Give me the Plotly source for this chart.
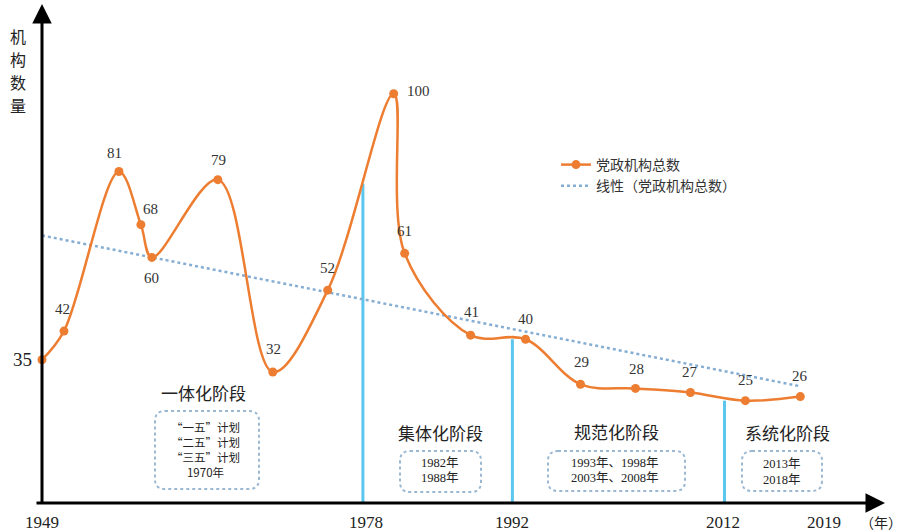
import numpy as np
import plotly.graph_objects as go

# 党政机构总数（历次机构改革）
years = [1949, 1951, 1956, 1958, 1959, 1965, 1970, 1975, 1981, 1982,
         1988, 1993, 1998, 2003, 2008, 2013, 2018]
counts = [35, 42, 81, 68, 60, 79, 32, 52, 100, 61, 41, 40, 29, 28, 27, 25, 26]

# 阶段分界线（年份位置及竖线高度）
stage_edges = [1978.2, 1991.8, 2011.1]
stage_edge_heights = [78, 40, 25]

# 横轴刻度
tick_years = [1949, 1978.5, 1991.8, 2011.0, 2020.2]
tick_text = ["1949", "1978", "1992", "2012", "2019"]

# 各阶段标题与说明
stage_titles = ["一体化阶段", "集体化阶段", "规范化阶段", "系统化阶段"]
stage_notes = [
    ["“一五”计划", "“二五”计划", "“三五”计划", "1970年"],
    ["1982年", "1988年"],
    ["1993年、1998年", "2003年、2008年"],
    ["2013年", "2018年"],
]

W, H = 903, 532
PX_PER_YEAR = 10.99
PX_PER_UNIT = 4.093
X0_PX, Y0_PX = 42, 503          # pixel position of (1949, 0)

x_min = 1949 - X0_PX / PX_PER_YEAR
x_max = x_min + W / PX_PER_YEAR
y_max = Y0_PX / PX_PER_UNIT
y_min = y_max - H / PX_PER_UNIT

ORANGE = "#ED7D31"
TREND = "#86AED3"
CYAN = "#5BC6EE"
BOX = "#9BB8D2"
SERIF = "Liberation Serif, Noto Sans CJK SC, serif"
CJK = "Noto Sans CJK SC, sans-serif"


def paper(x, y):
    return x / W, 1 - y / H


def rounded_box(x0, y0, x1, y1, r=10):
    """SVG path (paper units) for a rounded rectangle given in pixels."""
    def p(x, y):
        a, b = paper(x, y)
        return f"{a:.5f},{b:.5f}"
    return (f"M {p(x0 + r, y0)} L {p(x1 - r, y0)} Q {p(x1, y0)} {p(x1, y0 + r)} "
            f"L {p(x1, y1 - r)} Q {p(x1, y1)} {p(x1 - r, y1)} "
            f"L {p(x0 + r, y1)} Q {p(x0, y1)} {p(x0, y1 - r)} "
            f"L {p(x0, y0 + r)} Q {p(x0, y0)} {p(x0 + r, y0)} Z")


def text_at(px_x, px_y, text, family, size, color="#222222"):
    xa, ya = paper(px_x, px_y)
    return dict(x=xa, y=ya, xref="paper", yref="paper", text=text, showarrow=False,
                xanchor="center", yanchor="middle",
                font=dict(family=family, size=size, color=color))


slope, intercept = np.polyfit(years, counts, 1)
trend_x = [years[0], years[-1]]
trend_y = [slope * x + intercept for x in trend_x]

fig = go.Figure()

fig.add_trace(go.Scatter(
    x=trend_x, y=trend_y, mode="lines", name="线性（党政机构总数）",
    line=dict(color=TREND, width=2.5, dash="dot"), hoverinfo="skip",
))
fig.add_trace(go.Scatter(
    x=years, y=counts, mode="lines+markers", name="党政机构总数",
    line=dict(color=ORANGE, width=2.5, shape="spline", smoothing=1.0),
    marker=dict(color=ORANGE, size=9), cliponaxis=False,
))

shapes = []
for edge, h in zip(stage_edges, stage_edge_heights):
    shapes.append(dict(type="line", xref="x", yref="y", x0=edge, x1=edge, y0=0, y1=h,
                       line=dict(color=CYAN, width=3), layer="below"))

# 说明框（像素坐标）
boxes_px = [(155, 411, 259, 489), (400, 451, 481, 492), (548, 451, 685, 491), (742, 451, 822, 491)]
for b in boxes_px:
    shapes.append(dict(type="path", xref="paper", yref="paper", path=rounded_box(*b),
                       line=dict(color=BOX, width=2, dash="dot")))

annotations = []

# 坐标轴（带箭头）
annotations.append(dict(x=x_min + 885 / PX_PER_YEAR, y=0, ax=x_min + 35 / PX_PER_YEAR, ay=0,
                        xref="x", yref="y", axref="x", ayref="y", text="", showarrow=True,
                        arrowhead=2, arrowsize=1.3, arrowwidth=3, arrowcolor="black"))
annotations.append(dict(x=1949, y=y_max - 4 / PX_PER_UNIT, ax=1949, ay=-0.6,
                        xref="x", yref="y", axref="x", ayref="y", text="", showarrow=True,
                        arrowhead=2, arrowsize=1.3, arrowwidth=3, arrowcolor="black"))

# 数据标签偏移（像素）
label_shift = {
    42: (-1, 22), 81: (-4, 18), 68: (10, 16), 60: (0, -21), 79: (1, 20),
    32: (1, 23), 52: (0, 22), 100: (25, 3), 61: (0, 22), 41: (1, 23), 40: (0, 20),
    29: (1, 22), 28: (1, 19), 27: (0, 20), 25: (0, 21), 26: (0, 21),
}
for x, v in zip(years, counts):
    if v not in label_shift:
        continue
    dx, dy = label_shift[v]
    annotations.append(dict(x=x, y=v, xref="x", yref="y", text=str(v), showarrow=False,
                            xanchor="center", yanchor="middle",
                            xshift=dx, yshift=dy, font=dict(family=SERIF, size=15, color="#333333")))

# 纵轴起点数值
annotations.append(dict(x=x_min + 22 / PX_PER_YEAR, y=counts[0], xref="x", yref="y",
                        text=str(counts[0]), showarrow=False, xanchor="center", yanchor="middle",
                        font=dict(family=SERIF, size=19, color="#222222")))

# 横轴刻度标签
for tx, tt in zip(tick_years, tick_text):
    annotations.append(dict(x=tx, y=-19 / PX_PER_UNIT, xref="x", yref="y", text=tt,
                            showarrow=False, xanchor="center", yanchor="middle",
                            font=dict(family=SERIF, size=17, color="#222222")))
annotations.append(text_at(881, 522, "（年）", CJK, 14))

# 纵轴标题（竖排，逐字）
for i, ch in enumerate("机构数量"):
    annotations.append(text_at(18, 36 + 23 * i, ch, CJK, 16))

# 阶段标题
title_px = [(203, 392), (440, 432), (616, 431), (787, 432)]
for title, (tx, ty) in zip(stage_titles, title_px):
    annotations.append(text_at(tx, ty, title, CJK, 17))

# 说明框文字
annotations.append(text_at(205, 449, "<br>".join(stage_notes[0]), CJK, 11.5))
note_px = [(440, 463, 15), (615, 463, 15), (782, 464, 16)]
for notes, (nx, ny, step) in zip(stage_notes[1:], note_px):
    for j, line in enumerate(notes):
        annotations.append(text_at(nx, ny + step * j, line, SERIF, 12.5))

lx, ly = paper(556, 149)
fig.update_layout(
    width=W, height=H,
    margin=dict(l=0, r=0, t=0, b=0),
    paper_bgcolor="white", plot_bgcolor="white",
    xaxis=dict(range=[x_min, x_max], visible=False, fixedrange=True),
    yaxis=dict(range=[y_min, y_max], visible=False, fixedrange=True),
    showlegend=True,
    legend=dict(x=lx, y=ly, xanchor="left", yanchor="top", traceorder="reversed",
                bgcolor="rgba(0,0,0,0)", font=dict(family=CJK, size=14, color="#333333"),
                itemwidth=30, tracegroupgap=0),
    shapes=shapes, annotations=annotations,
)

fig.write_html("out.html")
